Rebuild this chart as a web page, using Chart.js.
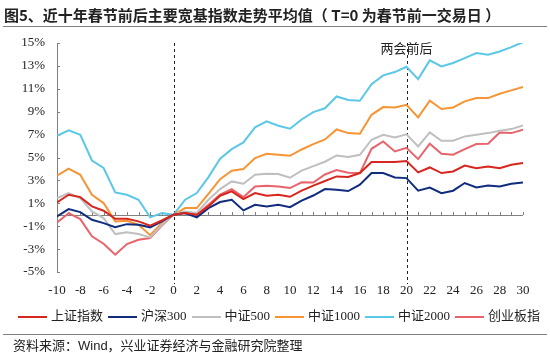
<!DOCTYPE html>
<html>
<head>
<meta charset="utf-8">
<script src="https://cdn.jsdelivr.net/npm/chart.js@4"></script>
<style>
  html, body { margin: 0; padding: 0; background: #fff; }
  #wrap { position: relative; width: 550px; height: 353px; overflow: hidden; }
  #chart { position: absolute; left: 0; top: 0; }
  .title { position: absolute; left: 4px; top: 4px; font: bold 15px "Noto Sans CJK SC", sans-serif; color: #222; white-space: pre; }
  .rule { position: absolute; left: 3px; width: 544px; height: 1px; background: #7f7f7f; }
  .source { position: absolute; left: 13px; top: 335px; font: 13px "Liberation Sans", "Noto Sans CJK SC", sans-serif; color: #222; white-space: nowrap; }
  #legend { position: absolute; left: 18px; top: 305px; font: 13px "Liberation Serif", "Noto Sans CJK SC", serif; color: #222; white-space: nowrap; }
  #legend span.item { display: inline-block; margin-right: 5px; }
  #legend span.ln { display: inline-block; width: 29px; height: 2px; vertical-align: middle; margin-right: 4px; }
</style>
</head>
<body>
<div id="wrap">
  <canvas id="chart" width="550" height="353"></canvas>
  <div class="title">图5、近十年春节前后主要宽基指数走势平均值（ T=0 为春节前一交易日 ）</div>
  <div class="rule" style="top:26px"></div>
  <div id="legend"></div>
  <div class="rule" style="top:334px"></div>
  <div class="source">资料来源：Wind，兴业证券经济与金融研究院整理</div>
</div>
<script>
// T 日（春节前一交易日为 0）
const days = [];
for (let t = -10; t <= 30; t++) days.push(t);

const yTicks = [-5, -3, -1, 1, 3, 5, 7, 9, 11, 13, 15];

// 各指数平均走势 (%)
const shangzheng = [1.08, 1.75, 1.54, 0.73, 0.35, -0.35, -0.35, -0.58, -0.96, -0.5, 0,
  0.15, 0, 0.73, 1.66, 2.04, 1.37, 1.89, 1.66, 1.75, 1.57,
  2.11, 2.55, 2.95, 3.35, 3.3, 3.64, 4.6, 4.6, 4.6, 4.7,
  3.7, 4.13, 3.64, 3.78, 4.3, 4.07, 4.22, 4.07, 4.37, 4.51];
const hs300 = [-0.15, 0.49, 0.23, -0.44, -0.73, -1.08, -0.82, -0.87, -1.1, -0.58, 0,
  0.15, -0.23, 0.58, 1.11, 1.31, 0.38, 0.87, 0.73, 0.87, 0.66,
  1.24, 1.68, 2.24, 2.18, 2.07, 2.62, 3.64, 3.64, 3.26, 3.2,
  2.1, 2.38, 1.89, 2.1, 2.77, 2.38, 2.56, 2.47, 2.71, 2.82];
const zz500 = [1.46, 1.9, 1.46, 0.29, -0.29, -1.69, -1.52, -1.69, -1.98, -0.87, 0,
  0.29, 0.15, 1.31, 2.24, 2.91, 2.71, 3.49, 3.58, 3.55, 3.23,
  3.85, 4.25, 4.63, 5.18, 5.05, 5.24, 6.55, 6.99, 6.75, 7.02,
  5.97, 7.19, 6.46, 6.46, 6.84, 6.99, 7.13, 7.34, 7.48, 7.8];
const zz1000 = [3.41, 4.02, 3.49, 1.75, 1.02, -0.58, -0.52, -0.88, -1.78, -0.73, 0,
  0.58, 0.58, 1.83, 3.11, 3.84, 3.99, 4.95, 5.33, 5.24, 5.15,
  5.7, 6.17, 6.58, 7.45, 7.13, 7.07, 8.73, 9.4, 9.37, 9.6,
  8.5, 9.96, 9.23, 9.37, 9.9, 10.19, 10.19, 10.57, 10.86, 11.15];
const zz2000 = [6.9, 7.37, 6.99, 4.74, 4.08, 1.95, 1.75, 1.31, -0.23, 0.14, 0,
  1.31, 1.89, 3.29, 4.89, 5.73, 6.32, 7.63, 8.15, 7.77, 7.51,
  8.32, 8.97, 9.3, 10.33, 10.02, 9.96, 11.41, 12.17, 12.46, 12.92,
  11.85, 13.48, 12.95, 13.25, 13.68, 14.12, 13.97, 14.26, 14.64, 15.08];
const chuangye = [-0.67, 0.14, -0.38, -1.89, -2.53, -3.49, -2.56, -2.18, -2.04, -0.95, 0,
  0.2, 0, 0.87, 1.75, 2.24, 1.54, 2.47, 2.53, 2.47, 2.33,
  2.83, 2.82, 3.52, 3.9, 3.67, 3.64, 5.76, 6.4, 5.53, 5.85,
  4.86, 6.2, 5.33, 5.24, 5.73, 6.17, 6.2, 7.19, 7.13, 7.42];

const names = ["上证指数", "沪深300", "中证500", "中证1000", "中证2000", "创业板指"];
const colors = ["#d7261e", "#0f2c7e", "#bfbfbf", "#f79433", "#5ac8e6", "#e9636a"];
const seriesList = [shangzheng, hs300, zz500, zz1000, zz2000, chuangye];

const marks = [0, 20]; // 竖虚线
const markLabel = "两会前后";

// legend (html)
const legendEl = document.getElementById("legend");
names.forEach((n, i) => {
  legendEl.innerHTML += '<span class="item"><span class="ln" style="background:' + colors[i] + '"></span>' + n + '</span>';
});

const axisGray = "#808080";

const decor = {
  id: "decor",
  beforeDatasetsDraw(chart) {
    const { ctx, chartArea, scales } = chart;
    const x = scales.x, y = scales.y;
    const y0 = y.getPixelForValue(0);
    ctx.save();
    ctx.strokeStyle = axisGray;
    ctx.lineWidth = 1;
    // 零轴 + 刻度
    ctx.beginPath();
    ctx.moveTo(chartArea.left, Math.round(y0) + 0.5);
    ctx.lineTo(chartArea.right, Math.round(y0) + 0.5);
    days.forEach(t => {
      const px = Math.round(x.getPixelForValue(t)) + 0.5;
      ctx.moveTo(px, Math.round(y0));
      ctx.lineTo(px, Math.round(y0) - 3);
    });
    ctx.stroke();
    // y 轴内侧刻度
    ctx.beginPath();
    yTicks.forEach(v => {
      const py = Math.round(y.getPixelForValue(v)) + 0.5;
      ctx.moveTo(chartArea.left, py);
      ctx.lineTo(chartArea.left + 3, py);
    });
    ctx.stroke();
    // 虚线
    ctx.strokeStyle = "#222";
    ctx.setLineDash([3, 3]);
    marks.forEach(t => {
      const px = Math.round(x.getPixelForValue(t)) + 0.5;
      ctx.beginPath();
      ctx.moveTo(px, chartArea.top);
      ctx.lineTo(px, chartArea.bottom + 12);
      ctx.stroke();
    });
    ctx.setLineDash([]);
    ctx.fillStyle = "#222";
    ctx.font = '13px "Noto Sans CJK SC", sans-serif';
    ctx.textAlign = "center";
    ctx.textBaseline = "middle";
    ctx.fillText(markLabel, x.getPixelForValue(20), chartArea.top + 5);
    ctx.restore();
  }
};

new Chart(document.getElementById("chart"), {
  type: "line",
  data: {
    datasets: names.map((n, i) => ({
      label: n,
      data: days.map((t, k) => ({ x: t, y: seriesList[i][k] })),
      borderColor: colors[i],
      backgroundColor: colors[i],
      borderWidth: 2,
      pointRadius: 0,
      tension: 0,
    })),
  },
  options: {
    responsive: false,
    animation: false,
    layout: { padding: { left: 0, right: 27, top: 43, bottom: 51 } },
    plugins: { legend: { display: false }, tooltip: { enabled: false } },
    scales: {
      x: {
        type: "linear",
        min: -10,
        max: 30,
        grid: { display: false, drawTicks: false },
        border: { display: false },
        afterFit(s) { s.height = 30; },
        afterBuildTicks(s) { s.ticks = days.filter(t => t % 2 === 0).map(v => ({ value: v })); },
        ticks: {
          autoSkip: false,
          maxRotation: 0,
          padding: 11,
          color: "#222",
          font: { family: "Liberation Serif", size: 13 },
        },
      },
      y: {
        min: -5,
        max: 15,
        grid: { display: false, drawTicks: false },
        border: { display: true, color: axisGray, width: 1 },
        afterFit(s) { s.width = 57; },
        afterBuildTicks(s) { s.ticks = yTicks.map(v => ({ value: v })); },
        ticks: {
          padding: 12,
          color: "#222",
          font: { family: "Liberation Serif", size: 13 },
          callback: v => v + "%",
        },
      },
    },
  },
  plugins: [decor],
});
</script>
</body>
</html>
